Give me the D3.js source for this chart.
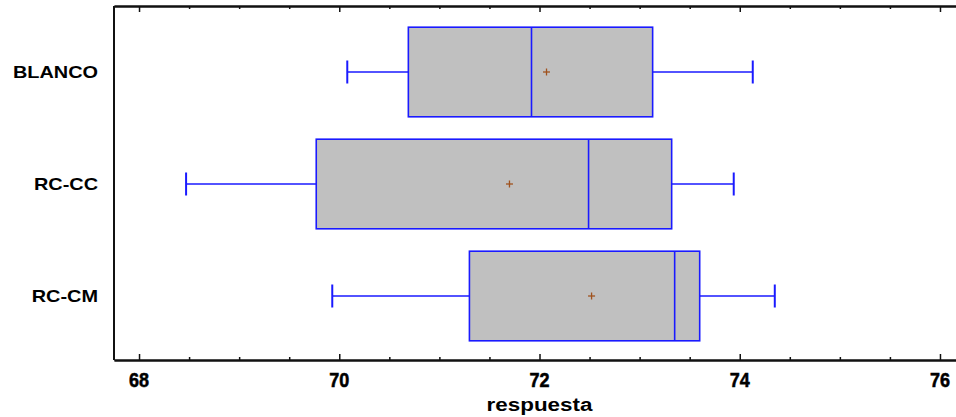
<!DOCTYPE html>
<html>
<head>
<meta charset="utf-8">
<script src="https://cdn.jsdelivr.net/npm/d3@7"></script>
<style>
  body { margin: 0; background: #fff; }
  svg text.lbl { font-family: "Liberation Sans", Arial, sans-serif; font-weight: bold; fill: #000; }
</style>
</head>
<body>
<svg id="chart"></svg>
<script>
// data
const groups = ['BLANCO', 'RC-CC', 'RC-CM'];
const whiskerLow = [70.08, 68.47, 69.93];
const q1 = [70.69, 69.77, 71.30];
const median = [71.92, 72.49, 73.35];
const q3 = [73.13, 73.32, 73.60];
const whiskerHigh = [74.13, 73.94, 74.35];
const means = [72.07, 71.70, 72.52];
const majorTicks = [68, 70, 72, 74, 76];
const minorTicks = [68.5, 69, 69.5, 70.5, 71, 71.5, 72.5, 73, 73.5, 74.5, 75, 75.5];
const xTitle = 'respuesta';

const width = 956;
const height = 417;
const plot = { left: 114, right: 956, top: 6, bottom: 360 };

const svg = d3.select('svg#chart').attr('width', width).attr('height', height);

const x = d3.scaleLinear()
  .domain([67.75, 76.16])
  .range([plot.left, plot.right]);

const y = d3.scaleBand()
  .domain(groups)
  .range([16, 352])
  .padding(0);

const boxH = y.bandwidth() * 0.8;
const capH = 23;

const rows = groups.map((g, i) => ({
  g: g, lo: whiskerLow[i], q1: q1[i], med: median[i], q3: q3[i], hi: whiskerHigh[i], mean: means[i]
}));

// boxes
const box = svg.append('g').selectAll('g').data(rows).enter().append('g')
  .attr('transform', d => 'translate(0,' + (y(d.g) + y.bandwidth() / 2) + ')');

const blue = '#1a1aff';
box.append('line')
  .attr('x1', d => x(d.lo)).attr('x2', d => x(d.q1))
  .attr('stroke', blue).attr('stroke-width', 1.5);
box.append('line')
  .attr('x1', d => x(d.q3)).attr('x2', d => x(d.hi))
  .attr('stroke', blue).attr('stroke-width', 1.5);
box.append('line')
  .attr('x1', d => x(d.lo)).attr('x2', d => x(d.lo))
  .attr('y1', -capH / 2).attr('y2', capH / 2)
  .attr('stroke', blue).attr('stroke-width', 2);
box.append('line')
  .attr('x1', d => x(d.hi)).attr('x2', d => x(d.hi))
  .attr('y1', -capH / 2).attr('y2', capH / 2)
  .attr('stroke', blue).attr('stroke-width', 2);
box.append('rect')
  .attr('x', d => x(d.q1)).attr('width', d => x(d.q3) - x(d.q1))
  .attr('y', -boxH / 2).attr('height', boxH)
  .attr('fill', '#c0c0c0').attr('stroke', blue).attr('stroke-width', 1.6);
box.append('line')
  .attr('x1', d => x(d.med)).attr('x2', d => x(d.med))
  .attr('y1', -boxH / 2).attr('y2', boxH / 2)
  .attr('stroke', blue).attr('stroke-width', 1.6);

// mean marker
const mc = '#a0521e';
box.append('line')
  .attr('x1', d => x(d.mean) - 3.5).attr('x2', d => x(d.mean) + 3.5)
  .attr('stroke', mc).attr('stroke-width', 1.3);
box.append('line')
  .attr('x1', d => x(d.mean)).attr('x2', d => x(d.mean))
  .attr('y1', -3.5).attr('y2', 3.5)
  .attr('stroke', mc).attr('stroke-width', 1.3);

// axes (ticks point inward, labels drawn separately)
const bottomAxis = svg.append('g').attr('transform', 'translate(0,' + plot.bottom + ')');
bottomAxis.call(d3.axisBottom(x).tickValues(minorTicks).tickSize(-3).tickSizeOuter(0).tickFormat(() => ''));
bottomAxis.append('g')
  .call(d3.axisBottom(x).tickValues(majorTicks).tickSize(-6).tickSizeOuter(0).tickFormat(() => ''));

const topAxis = svg.append('g').attr('transform', 'translate(0,' + plot.top + ')');
topAxis.call(d3.axisTop(x).tickValues(minorTicks).tickSize(-3).tickSizeOuter(0).tickFormat(() => ''));
topAxis.append('g').call(d3.axisTop(x).tickValues(majorTicks).tickSize(-6).tickSizeOuter(0).tickFormat(() => ''));

svg.selectAll('.domain').attr('stroke', '#111').attr('stroke-width', 2);
svg.selectAll('.tick line').attr('stroke', '#111').attr('stroke-width', 1.5);

// tick labels
svg.append('g').attr('class', 'xlabels').selectAll('text').data(majorTicks).enter().append('text')
  .attr('class', 'lbl')
  .attr('transform', d => 'translate(' + x(d) + ',387) scale(1,1.15)')
  .attr('text-anchor', 'middle')
  .attr('stroke', '#000')
  .attr('stroke-width', 0.5)
  .style('font-size', '18px')
  .text(d => d);

// left border with group labels
const leftAxis = svg.append('g').attr('transform', 'translate(' + plot.left + ',0)');
leftAxis.append('line')
  .attr('y1', plot.top).attr('y2', plot.bottom)
  .attr('stroke', '#111').attr('stroke-width', 2);
leftAxis.selectAll('text.lbl').data(groups).enter().append('text')
  .attr('class', 'lbl')
  .attr('transform', d => 'translate(-16,' + (y(d) + y.bandwidth() / 2) + ') scale(1.17,1)')
  .attr('dy', '0.35em')
  .attr('text-anchor', 'end')
  .style('font-size', '17px')
  .text(d => d);

svg.append('text')
  .attr('class', 'lbl')
  .attr('transform', 'translate(' + x(72) + ',411) scale(1.18,1)')
  .attr('text-anchor', 'middle')
  .style('font-size', '19px')
  .text(xTitle);
</script>
</body>
</html>
